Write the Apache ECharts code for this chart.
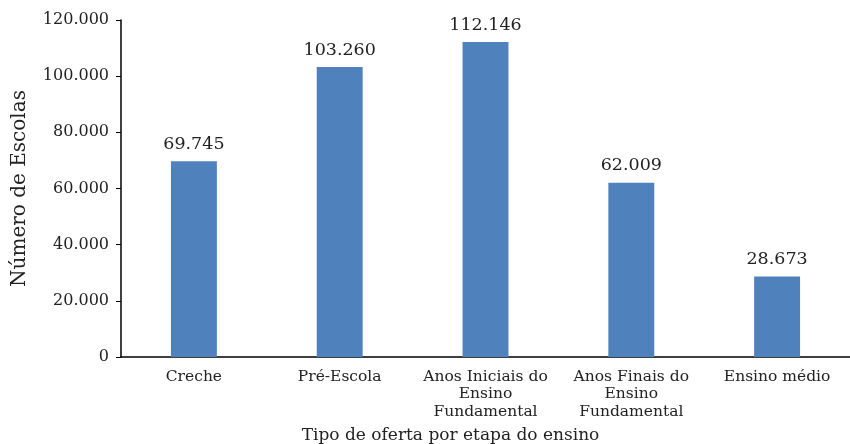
<!DOCTYPE html>
<html>
<head>
<meta charset="utf-8">
<script src="https://cdn.jsdelivr.net/npm/echarts@6/dist/echarts.min.js"></script>
<style>
  html, body { margin: 0; padding: 0; background: #fff; }
  #chart { width: 850px; height: 444px; }
</style>
</head>
<body>
<div id="chart"></div>
<script>
const categories = [
  'Creche',
  'Pré-Escola',
  'Anos Iniciais do\nEnsino\nFundamental',
  'Anos Finais do\nEnsino\nFundamental',
  'Ensino médio'
];
const escolas = [69745, 103260, 112146, 62009, 28673];
const yTicks = [0, 20000, 40000, 60000, 80000, 100000, 120000];

const serif = '"DejaVu Serif", "Liberation Serif", serif';
// 120000 -> "120.000"
const fmt = v => String(v).replace(/(\d)(?=(\d{3})+$)/g, '$1.');

const chart = echarts.init(document.getElementById('chart'));
chart.setOption({
  animation: false,
  grid: { left: 121, right: 0, top: 20, bottom: 87, outerBoundsMode: 'none' },
  xAxis: {
    type: 'category',
    data: categories,
    name: 'Tipo de oferta por etapa do ensino',
    nameLocation: 'middle',
    nameGap: 70,
    nameTextStyle: { fontFamily: serif, fontSize: 17, color: '#222', padding: [0, 70, 0, 0] },
    axisLine: { lineStyle: { color: '#000', width: 1.5 } },
    axisTick: { length: 6, lineStyle: { color: '#000' } },
    axisLabel: { fontFamily: serif, fontSize: 15.5, color: '#222', margin: 11, lineHeight: 17.5, interval: 0 }
  },
  yAxis: {
    type: 'value',
    min: yTicks[0],
    max: yTicks[yTicks.length - 1],
    interval: yTicks[1] - yTicks[0],
    name: 'Número de Escolas',
    nameLocation: 'middle',
    nameGap: 91,
    nameTextStyle: { fontFamily: serif, fontSize: 20, color: '#222' },
    axisLine: { show: true, lineStyle: { color: '#000', width: 1.5 } },
    axisTick: { show: true, length: 5, lineStyle: { color: '#000' } },
    splitLine: { show: false },
    axisLabel: { fontFamily: serif, fontSize: 16, color: '#222', margin: 12, formatter: fmt }
  },
  series: [{
    type: 'bar',
    data: escolas,
    barWidth: '31.5%',
    itemStyle: { color: '#4F81BD' },
    label: {
      show: true,
      position: 'top',
      distance: 8,
      fontFamily: serif,
      fontSize: 17.5,
      color: '#222',
      formatter: p => fmt(p.value)
    }
  }]
});
</script>
</body>
</html>
